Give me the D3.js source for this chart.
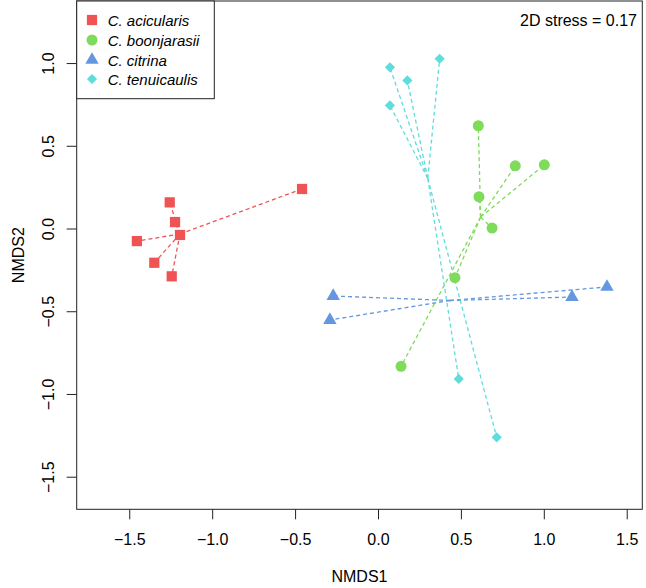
<!DOCTYPE html>
<html>
<head>
<meta charset="utf-8">
<script src="https://cdn.jsdelivr.net/npm/d3@7/dist/d3.min.js"></script>
<style>
  html, body { margin: 0; padding: 0; background: #fff; }
  svg { display: block; font-family: "Liberation Sans", Arial, Helvetica, sans-serif; }
</style>
</head>
<body>
<svg id="chart" width="646" height="588"></svg>
<script>
// ---- data ----
const species = ["C. acicularis", "C. boonjarasii", "C. citrina", "C. tenuicaulis"];
const colors  = ["#EF5354", "#7FDB5C", "#6497E0", "#5FDCDC"];
const shapes  = ["square", "circle", "triangle", "diamond"];

const aciX = [-1.454, -1.349, -1.256, -1.224, -1.194, -1.244, -0.458];
const aciY = [-0.076, -0.207, 0.158, 0.039, -0.039, -0.289, 0.239];
const booX = [0.605, 0.828, 1.003, 0.609, 0.688, 0.464, 0.139];
const booY = [0.621, 0.379, 0.385, 0.192, 0.003, -0.297, -0.833];
const citX = [-0.270, -0.290, 1.170, 1.381];
const citY = [-0.408, -0.553, -0.414, -0.353];
const tenX = [0.072, 0.177, 0.072, 0.372, 0.487, 0.716];
const tenY = [0.974, 0.895, 0.744, 1.026, -0.909, -1.262];

// spider centres (where the dashed lines meet in the reference)
const centreX = [-1.194, 0.619, 0.434, 0.300];
const centreY = [-0.033, 0.069, -0.435, 0.303];

const xTicks = [-1.5, -1.0, -0.5, 0.0, 0.5, 1.0, 1.5];
const yTicks = [-1.5, -1.0, -0.5, 0.0, 0.5, 1.0];
const xLabel = "NMDS1";
const yLabel = "NMDS2";
const stressText = "2D stress = 0.17";

// ---- layout ----
const svg = d3.select("#chart");
const L = 76.7, R = 642.3, T = 1, B = 509.3;
const x = d3.scaleLinear().domain([-1.817, 1.594]).range([L, R]);
const y = d3.scaleLinear().domain([-1.697, 1.375]).range([B, T]);

const groups = [
  {xs: aciX, ys: aciY}, {xs: booX, ys: booY}, {xs: citX, ys: citY}, {xs: tenX, ys: tenY}
].map((g, i) => ({
  name: species[i], color: colors[i], shape: shapes[i],
  cx: centreX[i], cy: centreY[i],
  pts: g.xs.map((v, j) => ({x: v, y: g.ys[j]}))
}));

function symbolPath(shape) {
  if (shape === "square") return d3.symbol().type(d3.symbolSquare).size(105)();
  if (shape === "circle") return d3.symbol().type(d3.symbolCircle).size(95)();
  if (shape === "triangle") return d3.symbol().type(d3.symbolTriangle).size(78)();
  return d3.symbol().type(d3.symbolSquare).size(52)();
}
function symbolRot(shape) { return shape === "diamond" ? " rotate(45)" : ""; }

// spider lines
groups.forEach(g => {
  svg.append("g").selectAll("line").data(g.pts).join("line")
    .attr("x1", x(g.cx)).attr("y1", y(g.cy))
    .attr("x2", d => x(d.x)).attr("y2", d => y(d.y))
    .attr("stroke", g.color).attr("stroke-width", 1.3)
    .attr("stroke-dasharray", "4,3");
});

// points
groups.forEach(g => {
  svg.append("g").selectAll("path").data(g.pts).join("path")
    .attr("d", symbolPath(g.shape))
    .attr("transform", d => `translate(${x(d.x)},${y(d.y)})` + symbolRot(g.shape))
    .attr("fill", g.color);
});

// axes
const xAxis = svg.append("g").attr("transform", `translate(0,${B})`)
  .call(d3.axisBottom(x).tickValues(xTicks).tickSize(10).tickPadding(14)
        .tickFormat(d3.format(".1f")));
xAxis.select(".domain").remove();
xAxis.selectAll("text").attr("font-size", 16).attr("fill", "#000")
  .attr("font-family", "'Liberation Sans', Arial, sans-serif");
xAxis.selectAll("line").attr("stroke", "#222");

const yAxis = svg.append("g").attr("transform", `translate(${L},0)`)
  .call(d3.axisLeft(y).tickValues(yTicks).tickSize(10).tickFormat(d3.format(".1f")));
yAxis.select(".domain").remove();
yAxis.selectAll("line").attr("stroke", "#222");
yAxis.selectAll("text")
  .attr("font-size", 16).attr("fill", "#000")
  .attr("font-family", "'Liberation Sans', Arial, sans-serif")
  .attr("text-anchor", "middle")
  .attr("x", 0).attr("dy", null).attr("y", 0)
  .attr("transform", "translate(-23,0) rotate(-90)");

// box
svg.append("rect").attr("x", L).attr("y", T).attr("width", R - L).attr("height", B - T)
  .attr("fill", "none").attr("stroke", "#222").attr("stroke-width", 1);

// axis titles
svg.append("text").attr("x", (L + R) / 2).attr("y", 582).attr("text-anchor", "middle")
  .attr("font-size", 16).text(xLabel);
svg.append("text").attr("transform", `translate(24,${(T + B) / 2}) rotate(-90)`)
  .attr("text-anchor", "middle").attr("font-size", 16).text(yLabel);

// stress
svg.append("text").attr("x", 637).attr("y", 26).attr("text-anchor", "end")
  .attr("font-size", 16).text(stressText);

// legend
const lg = svg.append("g");
lg.append("rect").attr("x", L).attr("y", T).attr("width", 214.3 - L).attr("height", 98.7 - T)
  .attr("fill", "#fff").attr("stroke", "#222").attr("stroke-width", 1);
const rowY = [20, 40, 60, 79];
groups.forEach((g, i) => {
  lg.append("path").attr("d", symbolPath(g.shape))
    .attr("transform", `translate(92,${rowY[i]})` + symbolRot(g.shape))
    .attr("fill", g.color);
  lg.append("text").attr("x", 107.7).attr("y", rowY[i] + 5.5)
    .attr("font-size", 15).attr("font-style", "italic").text(g.name);
});
</script>
</body>
</html>
